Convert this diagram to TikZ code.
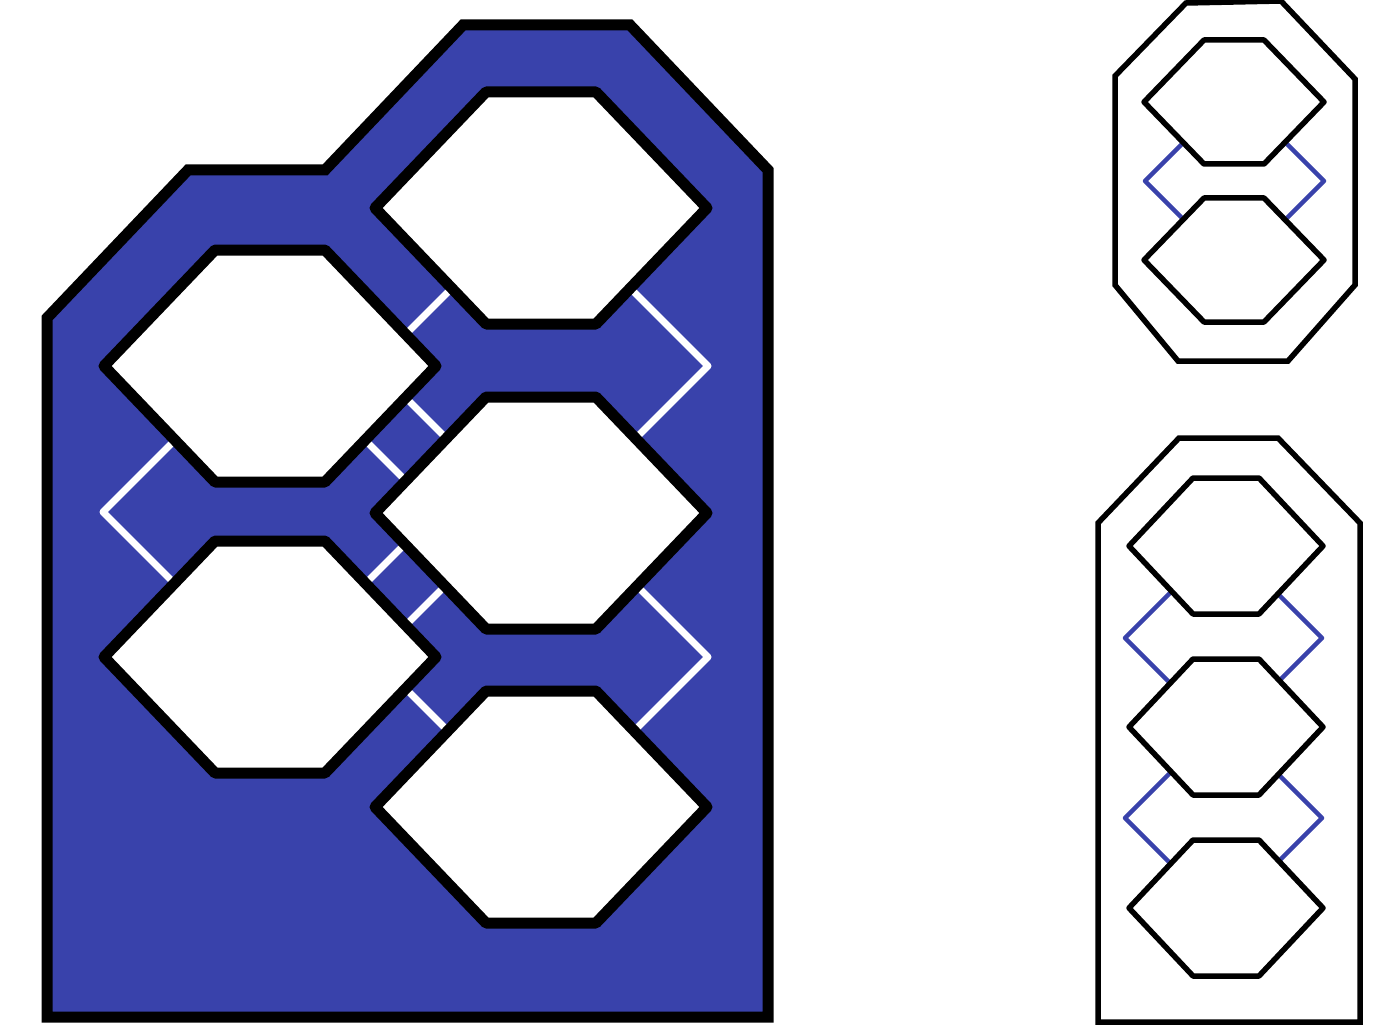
\documentclass[tikz,border=0pt]{standalone}
\begin{document}
\begin{tikzpicture}[x=1pt,y=-1pt,
  bigframe/.style={draw=black,line width=11pt,fill=chipblue,line join=miter},
  bighex/.style={draw=black,line width=11pt,fill=white,line join=round},
  whitelink/.style={draw=white,line width=7pt,line join=round},
  smallframe/.style={draw=black,line width=5.5pt,line join=miter},
  smallhex/.style={draw=black,line width=5.5pt,fill=white,line join=round},
  bluelink/.style={draw=chipblue,line width=4.5pt,line join=round}]
\definecolor{chipblue}{RGB}{57,66,171}
\useasboundingbox (0,0) rectangle (1384,1027);
% ---------- main figure ----------
\path[bigframe] (47,318) -- (188,170) -- (325,170) -- (463,25) -- (630,25) -- (768,170) -- (768,1017) -- (47,1017) -- cycle;
% white chevrons (apex, +-110)
\foreach \ax/\ay/\s in {708/366/-1, 374/366/1, 708/657/-1, 374/657/1, 103/512/1, 437/512/-1}{
  \draw[whitelink] (\ax+\s*110,\ay-110) -- (\ax,\ay) -- (\ax+\s*110,\ay+110);
}
% hexagons
\foreach \cx/\cy in {541/208, 270/366, 541/513, 270/657, 541/807}{
  \path[bighex] (\cx-166,\cy) -- (\cx-55,\cy-116) -- (\cx+55,\cy-116) -- (\cx+166,\cy) -- (\cx+55,\cy+116) -- (\cx-55,\cy+116) -- cycle;
}
% ---------- top right figure ----------
\path[smallframe] (1115,76) -- (1186,3) -- (1281,1) -- (1355,79) -- (1355,285) -- (1288,361) -- (1178,361) -- (1115,285) -- cycle;
\foreach \ax/\ay/\s in {1145/181/1, 1324/181/-1}{
  \draw[bluelink] (\ax+\s*60,\ay-60) -- (\ax,\ay) -- (\ax+\s*60,\ay+60);
}
\foreach \cx/\cy in {1234/102, 1234/260}{
  \path[smallhex] (\cx-90,\cy) -- (\cx-30,\cy-62) -- (\cx+30,\cy-62) -- (\cx+90,\cy) -- (\cx+30,\cy+62) -- (\cx-30,\cy+62) -- cycle;
}
% ---------- bottom right figure ----------
\path[smallframe] (1098,523) -- (1179,438) -- (1278,438) -- (1360,523) -- (1360,1022) -- (1098,1022) -- cycle;
\foreach \ax/\ay/\s in {1125/638/1, 1322/638/-1, 1125/818/1, 1322/818/-1}{
  \draw[bluelink] (\ax+\s*70,\ay-70) -- (\ax,\ay) -- (\ax+\s*70,\ay+70);
}
\foreach \cx/\cy in {1226/546, 1226/727, 1226/908}{
  \path[smallhex] (\cx-97,\cy) -- (\cx-33,\cy-68) -- (\cx+33,\cy-68) -- (\cx+97,\cy) -- (\cx+33,\cy+68) -- (\cx-33,\cy+68) -- cycle;
}
\end{tikzpicture}
\end{document}
